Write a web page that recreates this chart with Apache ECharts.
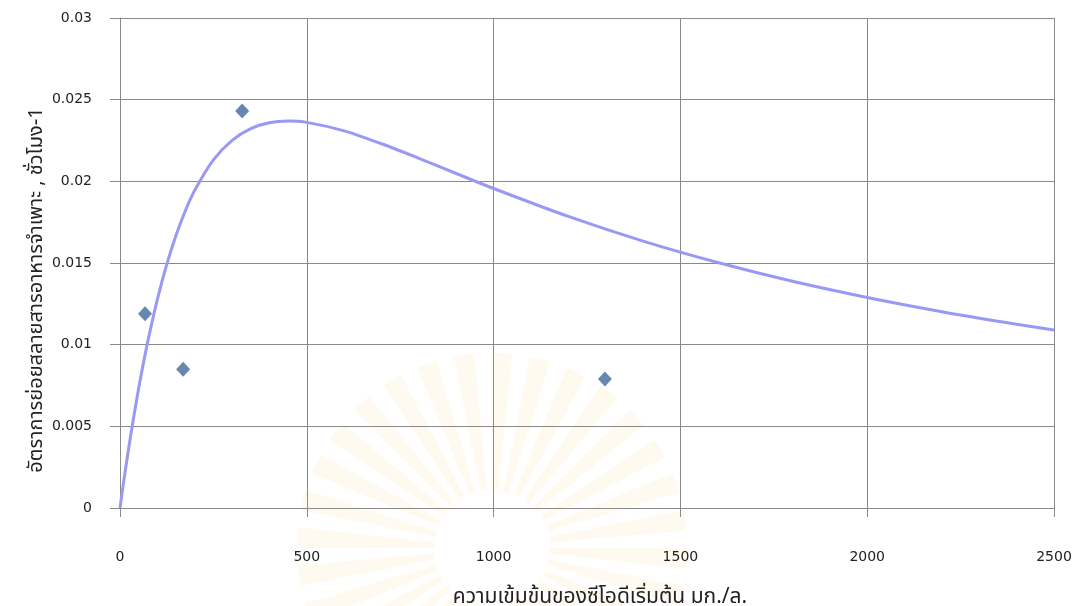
<!DOCTYPE html>
<html>
<head>
<meta charset="utf-8">
<script src="https://cdn.jsdelivr.net/npm/echarts@6/dist/echarts.min.js"></script>
<style>
  html, body { margin: 0; padding: 0; background: #fff; }
  #chart { width: 1075px; height: 606px; }
</style>
</head>
<body>
<div id="chart"></div>
<script>
// Measured specific substrate utilisation rate vs. initial COD
const measuredCOD = [67, 169, 327, 1298];
const measuredRate = [0.0119, 0.0085, 0.0243, 0.0079];

// Fitted substrate-inhibition curve, sampled along COD
const curveCOD = [0, 5, 10, 15, 25, 35, 50, 60, 75, 100, 125, 150, 175, 200, 250, 300, 350,
  400, 450, 500, 600, 700, 800, 900, 1000, 1200, 1400, 1600, 1800, 2000, 2200, 2400, 2500];
const curveRate = [0, 0.00083, 0.00163, 0.00242, 0.00392, 0.00534, 0.00733, 0.00856,
  0.01026, 0.01277, 0.01490, 0.01670, 0.01820, 0.01945, 0.02131, 0.02251, 0.02323,
  0.02359, 0.02369, 0.02361, 0.02309, 0.02230, 0.02141, 0.02048, 0.01956, 0.01785,
  0.01634, 0.01503, 0.01388, 0.01289, 0.01202, 0.01125, 0.01090];

const xTitle = 'ความเข้มข้นของซีโอดีเริ่มต้น มก./ล.';
const yTitle = 'อัตราการย่อยสลายสารอาหารจำเพาะ , ชั่วโมง-1';

const labelFont = '"DejaVu Sans", Tahoma, sans-serif';
const thaiFont = 'Tahoma, "Noto Sans Thai", "Noto Sans", "DejaVu Sans", sans-serif';
const gridColor = '#8a8a8a';

const chart = echarts.init(document.getElementById('chart'), null, { renderer: 'canvas' });

// faint sunburst emblem in the background
const rays = [];
const cx = 492, cy = 548;
const rayCount = 32;
for (let i = 0; i < rayCount; i++) {
  const a = (i / rayCount) * Math.PI * 2;
  rays.push({
    type: 'sector',
    silent: true,
    shape: { cx: cx, cy: cy, r0: 58, r: 195, startAngle: a, endAngle: a + Math.PI / 30 },
    style: { fill: '#f9dc8c', opacity: 0.13 }
  });
}

const option = {
  animation: false,
  backgroundColor: '#ffffff',
  graphic: [
    { type: 'group', z: -10, children: rays },
    {
      // vertical axis title, reading bottom to top
      type: 'text',
      x: 38, y: 290,
      rotation: Math.PI / 2,
      silent: true,
      style: {
        text: yTitle,
        font: '20px ' + thaiFont,
        fill: '#222',
        textAlign: 'center',
        textVerticalAlign: 'middle'
      }
    }
  ],
  grid: { left: 120, right: 21, top: 18, bottom: 98, containLabel: false, outerBoundsMode: 'none' },
  xAxis: {
    type: 'value',
    min: 0, max: 2500, interval: 500,
    name: xTitle,
    nameLocation: 'middle',
    nameGap: 80,
    nameTextStyle: { fontFamily: thaiFont, fontSize: 21, color: '#222', padding: [0, 0, 0, 26] },
    axisLine: { show: true, lineStyle: { color: gridColor, width: 1 } },
    axisTick: { show: true, length: 9, lineStyle: { color: gridColor } },
    axisLabel: {
      margin: 42, fontFamily: labelFont, fontSize: 14, color: '#222',
      formatter: v => String(v)
    },
    splitLine: { show: true, lineStyle: { color: gridColor, width: 1 } }
  },
  yAxis: {
    type: 'value',
    min: 0, max: 0.03, interval: 0.005,
    axisLine: { show: true, lineStyle: { color: gridColor, width: 1 } },
    axisTick: { show: true, length: 10, lineStyle: { color: gridColor } },
    axisLabel: {
      margin: 28, fontFamily: labelFont, fontSize: 14, color: '#222',
      formatter: v => String(parseFloat(v.toFixed(3)))
    },
    splitLine: { show: true, lineStyle: { color: gridColor, width: 1 } }
  },
  series: [
    {
      name: 'model',
      type: 'line',
      data: curveCOD.map((x, i) => [x, curveRate[i]]),
      smooth: 0.3,
      showSymbol: false,
      lineStyle: { color: '#9999f5', width: 3 },
      z: 2
    },
    {
      name: 'measured',
      type: 'scatter',
      data: measuredCOD.map((x, i) => [x, measuredRate[i]]),
      symbol: 'diamond',
      symbolSize: [14, 15],
      itemStyle: { color: '#41699d' },
      z: 3
    }
  ]
};
chart.setOption(option);
</script>
</body>
</html>
